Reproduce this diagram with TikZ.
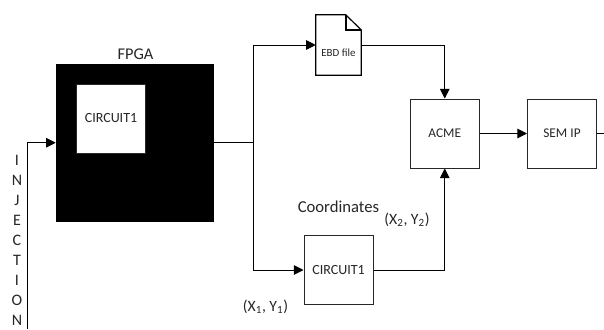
\documentclass[tikz,border=0pt]{standalone}
\usepackage{fontspec}
\setmainfont{Carlito}
\usetikzlibrary{arrows.meta}
\definecolor{ink}{HTML}{262626}
\tikzset{
  boxed/.style={draw=ink,line width=0.75pt,fill=white,minimum width=51.75pt,minimum height=51.75pt,inner sep=0pt,text=ink,font=\fontsize{10.5}{12}\selectfont},
  big/.style={boxed,font=\fontsize{10}{12}\selectfont},
  conn/.style={draw=black,line width=0.75pt},
  arr/.style={conn,-{Triangle[length=7.2pt,width=7.2pt]}},
  lbl/.style={inner sep=0pt,text=ink,font=\fontsize{11.8}{14}\selectfont},
}
\begin{document}
\begin{tikzpicture}[x=0.75pt,y=-0.75pt]
\useasboundingbox (0,0) rectangle (604,329);
\node[minimum width=118.5pt,minimum height=118.5pt,inner sep=0pt,fill=black] (fpga) at (135,142.75) {};
\node[boxed] (c1) at (111,118.5) {CIRCUIT1};
\node[lbl,font=\fontsize{12.3}{14}\selectfont] (fpgal) at (135.5,54) {FPGA};
\node[minimum width=33.75pt,minimum height=45pt,inner sep=0pt] (ebd) at (338.5,45) {};
\draw[draw=black,line width=0.9pt,fill=white,line join=miter] (ebd.south west) -- (ebd.north west) -- ++(30,0) -- (ebd.east |- 0,30) -- (ebd.south east) -- cycle;
\draw[draw=black,line width=0.9pt] (346,15) -- (346,30) -- (361,30);
\node[inner sep=0pt,text=ink,font=\fontsize{8.2}{10}\selectfont] (ebdt) at (338.5,52.5) {EBD file};
\node[big] (acme) at (444.75,133.5) {ACME};
\node[big] (sem) at (562,133.5) {SEM IP};
\node[boxed] (c2) at (338.5,270) {CIRCUIT1};
\node[lbl,font=\fontsize{12.5}{14}\selectfont] (coord) at (338.5,207) {Coordinates};
\node[lbl] (x2) at (407,220) {(X\textsubscript{2}, Y\textsubscript{2})};
\node[lbl] (x1) at (265.5,307) {(X\textsubscript{1}, Y\textsubscript{1})};
\node[lbl,align=center,font=\fontsize{12}{15}\selectfont] (inj) at (17,240) {I\\N\\J\\E\\C\\T\\I\\O\\N};
\coordinate (src) at (27,329);
\coordinate (branch) at (253,142.75);
\coordinate (out) at (604,133.5);
\draw[arr] (src) |- (fpga.west);
\draw[conn] (fpga.east) -- (branch);
\draw[arr] (branch) |- (ebd.west);
\draw[arr] (branch) |- (c2.west);
\draw[arr] (ebd.east) -| (acme.north);
\draw[arr] (c2.east) -| (acme.south);
\draw[arr] (acme.east) -- (sem.west);
\draw[conn] (sem.east) -- (out);
\end{tikzpicture}
\end{document}
